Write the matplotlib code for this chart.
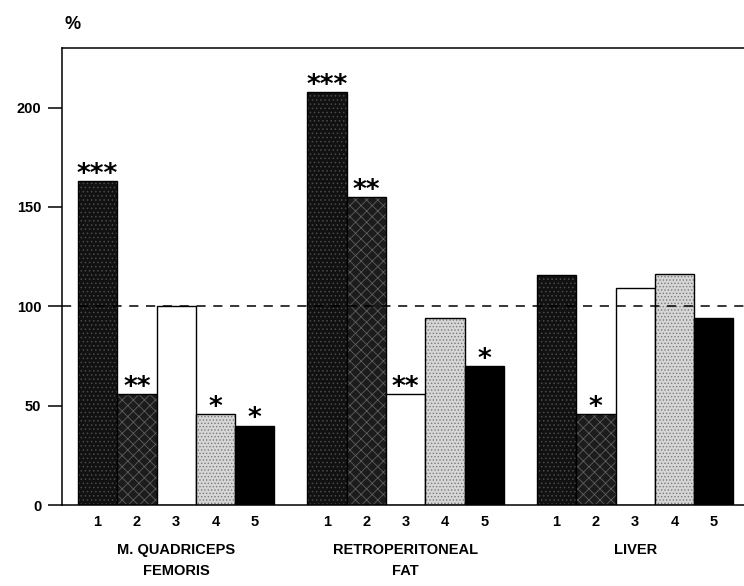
import matplotlib.pyplot as plt
import numpy as np

# donnees (% du controle)
groups = ['M. QUADRICEPS\nFEMORIS', 'RETROPERITONEAL\nFAT', 'LIVER']
bar_labels = ['1', '2', '3', '4', '5']
quadriceps = [163, 56, 100, 46, 40]
retro_fat = [208, 155, 56, 94, 70]
liver = [116, 46, 109, 116.5, 94]
quadriceps_sig = ['***', '**', '', '*', '*']
retro_fat_sig = ['***', '**', '**', '', '*']
liver_sig = ['', '*', '', '', '']

values = [quadriceps, retro_fat, liver]
signif = [quadriceps_sig, retro_fat_sig, liver_sig]

# style des barres 1..5 (facecolor, hatch, couleur du motif)
styles = [
    ('#111111', '....', '#4a4a4a'),
    ('#1c1c1c', 'xxx', '#5e5e5e'),
    ('white', '', 'black'),
    ('#d6d6d6', '.....', '#7a7a7a'),
    ('black', '', 'black'),
]

plt.rcParams['font.family'] = ['Liberation Sans', 'DejaVu Sans']
plt.rcParams['hatch.linewidth'] = 0.6

fig = plt.figure(figsize=(7.44, 5.86), dpi=100)
ax = fig.add_axes([0.0833, 0.1382, 0.9167, 0.7799])

spacing = 5.84
xticks = []
xticklabels = []
for g, (vals, sig) in enumerate(zip(values, signif)):
    for i, v in enumerate(vals):
        x = g * spacing + i
        fc, hatch, hc = styles[i]
        ax.bar(x, v, width=1.0, color=fc, edgecolor=hc, hatch=hatch, linewidth=0)
        ax.bar(x, v, width=1.0, fill=False, edgecolor='black', linewidth=1.0)
        if sig[i]:
            ax.text(x, v - 3.5, sig[i], ha='center', va='bottom', fontsize=19,
                    fontweight='bold', family='DejaVu Sans')
        xticks.append(x)
        xticklabels.append(bar_labels[i])
    ax.text(g * spacing + 2, -19, groups[g], ha='center', va='top', fontsize=10.5,
            fontweight='bold', linespacing=1.65)

ax.axhline(100, color='black', linestyle=(0, (6, 5)), linewidth=1.1)

ax.set_xlim(-0.907, 16.45)
ax.set_ylim(0, 230)
ax.set_yticks([0, 50, 100, 150, 200])
ax.set_xticks(xticks)
ax.set_xticklabels(xticklabels, fontsize=10.5, fontweight='bold')
ax.tick_params(axis='x', length=0, pad=7)
ax.tick_params(axis='y', length=10, width=1.1, labelsize=10.5, pad=5, direction='out')
for lbl in ax.get_yticklabels():
    lbl.set_fontweight('bold')
ax.spines['right'].set_visible(False)
for s in ['left', 'top', 'bottom']:
    ax.spines[s].set_linewidth(1.1)

fig.text(0.087, 0.958, '%', fontsize=13, fontweight='bold', ha='left', va='center')

fig.savefig('out.png', dpi=100)
